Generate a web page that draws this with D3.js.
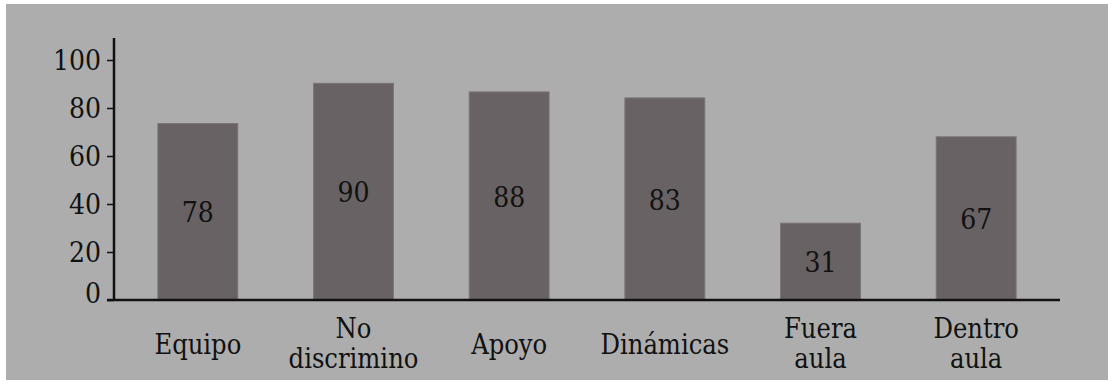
<!DOCTYPE html>
<html>
<head>
<meta charset="utf-8">
<script src="https://cdn.jsdelivr.net/npm/d3@7"></script>
<style>
  body { margin: 0; background: #fff; }
  text { font-family: "DejaVu Serif", serif; font-stretch: condensed; fill: #111; }
</style>
</head>
<body>
<div id="chart"></div>
<script>
// Data
const categories = ["Equipo", "No discrimino", "Apoyo", "Dinámicas", "Fuera aula", "Dentro aula"]
const barValues = [73.5, 90.3, 86.7, 84.2, 32, 68]
const barLabels = ["78", "90", "88", "83", "31", "67"]
const yTicks = [0, 20, 40, 60, 80, 100]

const width = 1113
const height = 385

const svg = d3.select("#chart")
    .append("svg")
    .attr("width", width)
    .attr("height", height)

// grey panel
svg.append("rect")
    .attr("x", 6).attr("y", 4)
    .attr("width", 1102).attr("height", 376)
    .attr("fill", "#adadad")

const x = d3.scaleBand()
    .domain(categories)
    .range([114, 1060])
    .paddingInner(0.487)
    .paddingOuter(0.282)

const y = d3.scaleLinear()
    .domain([0, 100])
    .range([300, 60])

// bars
svg.append("g")
    .selectAll("rect")
    .data(barValues)
    .join("rect")
        .attr("x", (d, i) => x(categories[i]))
        .attr("y", d => y(d))
        .attr("width", x.bandwidth())
        .attr("height", d => y(0) - y(d))
        .attr("fill", "#686264")
        .attr("stroke", "#7a7476")
        .attr("stroke-width", 1)

// value labels inside bars
svg.append("g")
    .selectAll("text")
    .data(barValues)
    .join("text")
        .attr("x", (d, i) => x(categories[i]) + x.bandwidth() / 2)
        .attr("y", d => (y(d) + y(0)) / 2)
        .attr("dy", "0.38em")
        .attr("text-anchor", "middle")
        .style("font-size", "28px")
        .text((d, i) => barLabels[i])

// y axis
const yAxis = svg.append("g")
    .attr("transform", "translate(114,0)")
    .call(d3.axisLeft(y).tickValues(yTicks).tickSize(7).tickPadding(6))
yAxis.select(".domain").attr("d", "M0,38V300").attr("stroke", "#111").attr("stroke-width", 2.5)
yAxis.selectAll(".tick line").attr("stroke", "#111").attr("stroke-width", 1.5)
yAxis.selectAll(".tick text")
    .style("font-size", "28px")
    .attr("fill", "#111")
    .attr("dy", d => d === 0 ? "0.1em" : "0.35em")

// x axis line
svg.append("line")
    .attr("x1", 107).attr("x2", 1060)
    .attr("y1", y(0)).attr("y2", y(0))
    .attr("stroke", "#111")
    .attr("stroke-width", 2.5)

// category labels, wrapped on the space for two-word names
const catLabels = svg.append("g")
    .selectAll("text")
    .data(categories)
    .join("text")
        .attr("text-anchor", "middle")
        .style("font-size", "27px")
        .attr("transform", d => `translate(${x(d) + x.bandwidth() / 2},0)`)

catLabels.each(function(d) {
    const words = d.split(" ")
    const t = d3.select(this)
    if (words.length === 1) {
        t.append("tspan").attr("x", 0).attr("y", 354).text(d)
    } else {
        words.forEach((w, j) => {
            t.append("tspan").attr("x", 0).attr("y", 338 + j * 30).text(w)
        })
    }
})
</script>
</body>
</html>
